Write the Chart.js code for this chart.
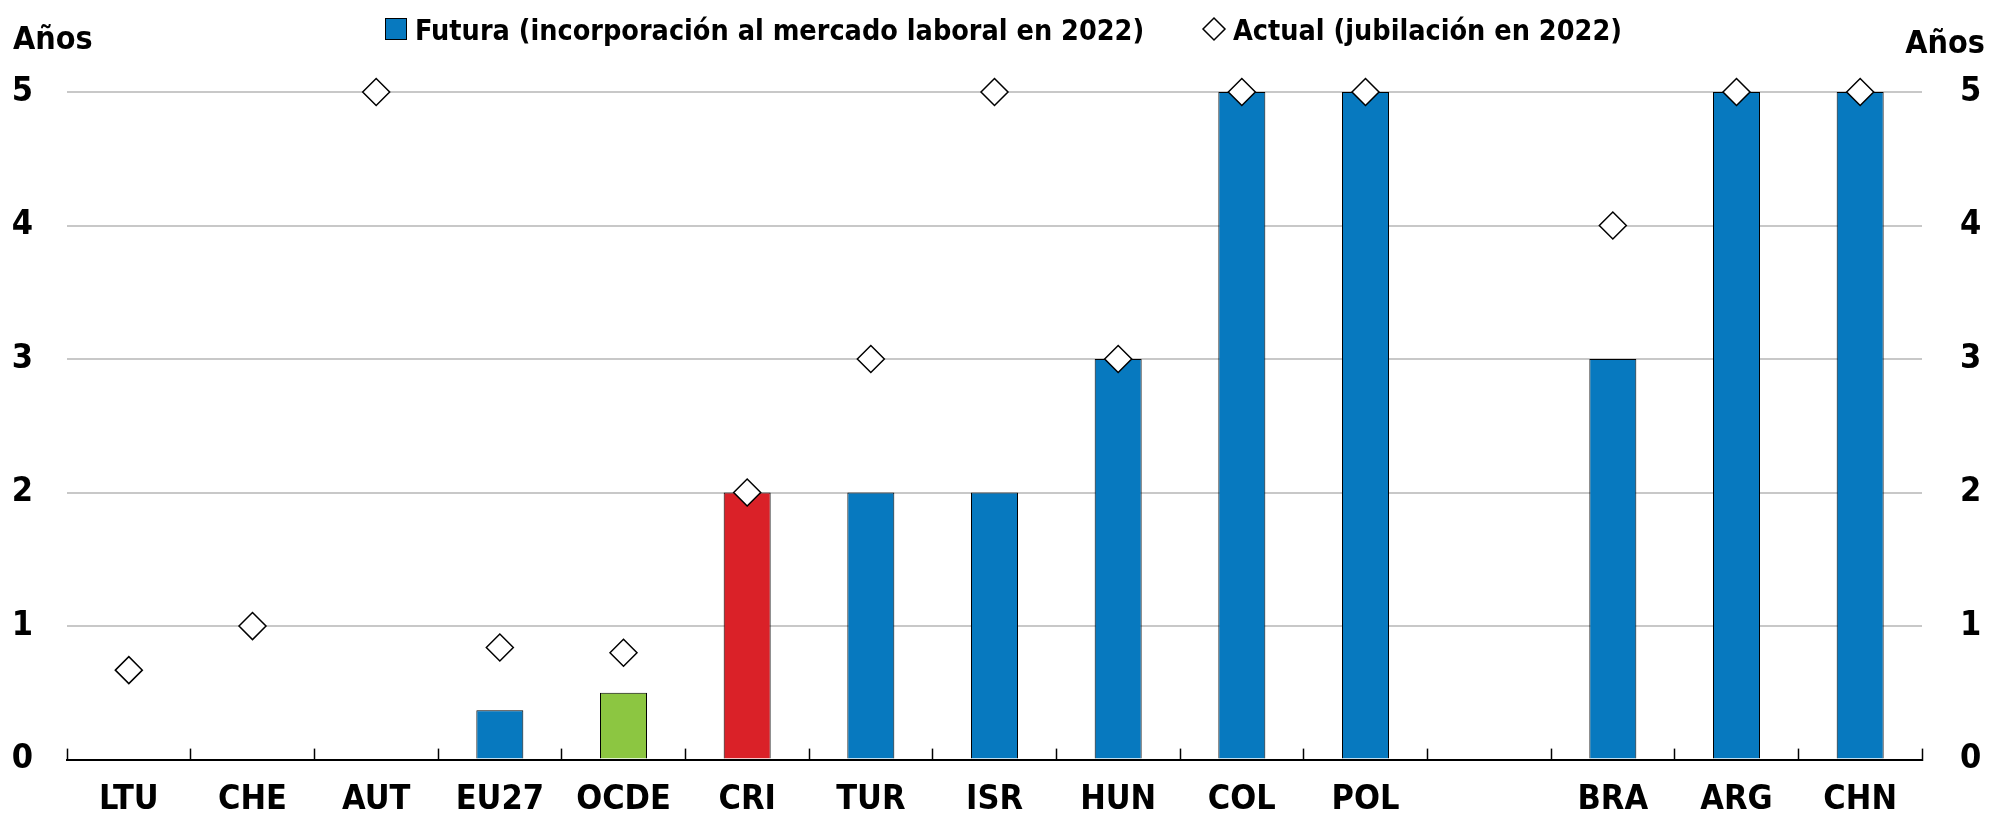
<!DOCTYPE html>
<html>
<head>
<meta charset="utf-8">
<script src="https://cdn.jsdelivr.net/npm/chart.js@4.4.1/dist/chart.umd.min.js"></script>
<style>
  html, body { margin: 0; padding: 0; background: #fff; }
  #wrap { position: relative; width: 1992px; height: 818px; }
</style>
</head>
<body>
<div id="wrap"><canvas id="c" width="1992" height="818"></canvas></div>
<script>
// ---- Data ----
const categories = ['LTU', 'CHE', 'AUT', 'EU27', 'OCDE', 'CRI', 'TUR', 'ISR', 'HUN', 'COL', 'POL', '', 'BRA', 'ARG', 'CHN'];
const futuraValues = [0, 0, 0, 0.37, 0.5, 2, 2, 2, 3, 5, 5, null, 3, 5, 5];
const actualValues = [0.67, 1, 5, 0.84, 0.8, 2, 3, 5, 3, 5, 5, null, 4, 5, 5];
const yTicks = [0, 1, 2, 3, 4, 5];
const seriesNames = ['Futura (incorporación al mercado laboral en 2022)', 'Actual (jubilación en 2022)'];
const axisUnit = 'Años';

// ---- Styles ----
const FONT = "'DejaVu Sans Condensed', 'Liberation Sans Narrow', 'Arial Narrow', sans-serif";
const BLUE = '#0779BF', RED = '#DA2128', GREEN = '#8CC641';
const barColors = categories.map(c => c === 'OCDE' ? GREEN : (c === 'CRI' ? RED : BLUE));

const overlay = {
  id: 'overlay',
  afterDraw(chart) {
    const ctx = chart.ctx;
    ctx.save();
    ctx.fillStyle = '#000';
    ctx.textBaseline = 'alphabetic';
    ctx.font = "bold 32px " + FONT;
    ctx.textAlign = 'left';
    ctx.fillText(axisUnit, 13, 49);
    ctx.textAlign = 'right';
    ctx.fillText(axisUnit, 1985, 53);
    // legend
    ctx.textAlign = 'left';
    ctx.font = "bold 28.5px " + FONT;
    ctx.fillStyle = BLUE;
    ctx.fillRect(385, 18, 22, 22);
    ctx.strokeStyle = '#000';
    ctx.lineWidth = 1;
    ctx.strokeRect(385.5, 18.5, 21, 21);
    ctx.fillStyle = '#000';
    ctx.fillText(seriesNames[0], 415, 40);
    ctx.beginPath();
    ctx.moveTo(1203, 29); ctx.lineTo(1214, 18); ctx.lineTo(1225, 29); ctx.lineTo(1214, 40); ctx.closePath();
    ctx.fillStyle = '#fff'; ctx.fill();
    ctx.lineWidth = 1.5; ctx.strokeStyle = '#000'; ctx.stroke();
    ctx.fillStyle = '#000';
    ctx.fillText(seriesNames[1], 1233, 40);
    ctx.restore();
  }
};

new Chart(document.getElementById('c'), {
  data: {
    labels: categories,
    datasets: [
      {
        type: 'line',
        label: seriesNames[1],
        data: actualValues,
        showLine: false,
        pointStyle: 'rectRot',
        pointRadius: 13.5,
        pointHoverRadius: 13.5,
        pointBackgroundColor: '#fff',
        pointBorderColor: '#000',
        pointBorderWidth: 1.5,
        clip: false,
        order: 0
      },
      {
        type: 'bar',
        label: seriesNames[0],
        data: futuraValues,
        backgroundColor: barColors,
        borderColor: '#000',
        borderWidth: 1,
        barPercentage: 0.38,
        categoryPercentage: 1,
        order: 1
      }
    ]
  },
  options: {
    responsive: false,
    animation: false,
    devicePixelRatio: 1,
    layout: { padding: { top: 92, left: 0, right: 0, bottom: 0 } },
    plugins: { legend: { display: false }, tooltip: { enabled: false } },
    scales: {
      x: {
        type: 'category',
        offset: true,
        border: { display: true, color: '#000', width: 2 },
        grid: { display: true, offset: true, drawOnChartArea: false, drawTicks: true, tickLength: -11, tickColor: '#000', tickWidth: 1.5 },
        ticks: { color: '#000', font: { family: FONT, size: 34, weight: 'bold' }, padding: 31, maxRotation: 0, autoSkip: false },
        afterFit(s) { s.height = 52; }
      },
      y: {
        position: 'left',
        min: 0, max: 5,
        afterBuildTicks(s) { s.ticks = yTicks.map(v => ({ value: v })); },
        border: { display: false },
        grid: { color: ctx => ctx.tick.value === 0 ? 'rgba(0,0,0,0)' : '#c8c8c8', lineWidth: 2, drawTicks: false },
        ticks: { color: '#000', font: { family: FONT, size: 34, weight: 'bold' }, padding: 34 },
        afterFit(s) { s.width = 67; }
      },
      y2: {
        position: 'right',
        min: 0, max: 5,
        afterBuildTicks(s) { s.ticks = yTicks.map(v => ({ value: v })); },
        border: { display: false },
        grid: { display: false, drawTicks: false },
        ticks: { color: '#000', font: { family: FONT, size: 34, weight: 'bold' }, padding: 38 },
        afterFit(s) { s.width = 70; }
      }
    }
  },
  plugins: [overlay]
});
</script>
</body>
</html>
